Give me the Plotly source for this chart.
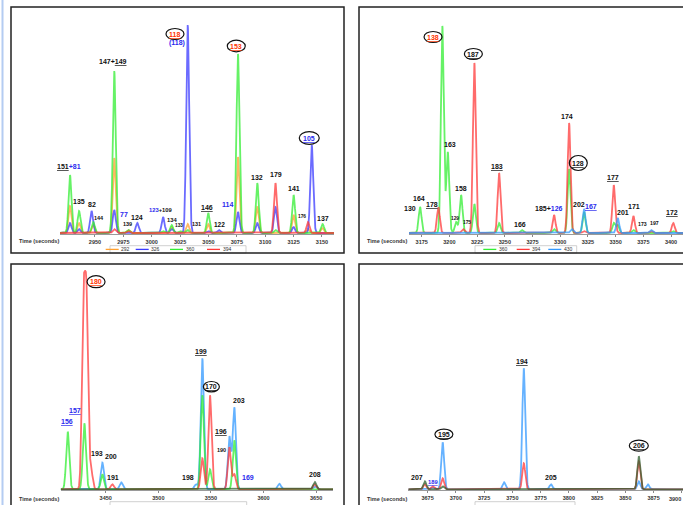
import numpy as np
import plotly.graph_objects as go

W, H = 683, 505

# ---------------- data: peak apex times (s) and heights (a.u.) ----------------
# Panel 1 : channels 292, 326, 360, 394
p1_ticks = [2950, 2975, 3000, 3025, 3050, 3075, 3100, 3125, 3150]
p1_292_t = [2928.0, 2936.0, 2948.5, 2967.0, 2979.3, 3017.6, 3031.7, 3049.8, 3076.0, 3093.0, 3125.0, 3137.7, 3150.5]
p1_292_h = [27, 10, 8, 75, 3, 6, 9, 9, 76, 26, 18, 4, 5]
p1_326_t = [2928.0, 2936.0, 2947.0, 2967.0, 2987.3, 3010.0, 3017.6, 3031.7, 3049.8, 3059.0, 3076.0, 3093.0, 3109.0, 3125.0, 3141.0]
p1_326_h = [10, 4, 22, 23, 10, 16, 4, 208, 2, 3, 21, 10, 26, 6, 88]
p1_360_t = [2928.0, 2936.0, 2948.5, 2967.0, 2979.3, 3010.0, 3017.6, 3025.0, 3031.7, 3049.8, 3076.0, 3093.0, 3109.0, 3125.0, 3150.5]
p1_360_h = [58, 22, 11, 162, 3, 2, 8, 2, 3, 20, 179, 50, 3, 38, 9]
p1_394_t = [2967.0, 2979.3, 3109.0, 3137.7]
p1_394_h = [4, 2, 50, 11]

# Panel 2 : channels 360, 394, 430
p2_ticks = [3175, 3200, 3225, 3250, 3275, 3300, 3325, 3350, 3375, 3400]
p2_360_t = [3173.5, 3193.6, 3198.5, 3206.0, 3210.5, 3222.5, 3244.8, 3265.3, 3294.4, 3308.0, 3321.5, 3348.3, 3351.9, 3366.0, 3402.0]
p2_360_h = [26, 207, 81, 11, 38, 29, 10, 3, 4, 64, 21, 10, 8, 3, 2]
p2_394_t = [3190.0, 3212.3, 3222.5, 3244.8, 3294.4, 3308.0, 3321.5, 3348.3, 3366.0, 3382.0, 3402.0]
p2_394_h = [25.7, 4, 170, 60, 18, 110, 2, 48, 17, 2, 10]
p2_430_t = [3310.4, 3321.5, 3351.9, 3382.0]
p2_430_h = [4, 24, 15, 3]

# Panel 3 : four channels
p3_ticks = [3450, 3500, 3550, 3600, 3650]
p3_blue_t = [3446.8, 3464.8, 3535.8, 3541.8, 3567.5, 3572.2, 3615.0, 3648.7]
p3_blue_h = [26.6, 7, 5, 131, 52.6, 81.6, 5.6, 3]
p3_green_t = [3413.9, 3429.7, 3446.8, 3541.8, 3549.1, 3572.2]
p3_green_h = [57.6, 66, 15, 94, 20, 49]
p3_red_t = [3428.8, 3431.8, 3436.0, 3456.3, 3541.8, 3549.1, 3567.5, 3572.2, 3648.7]
p3_red_h = [180, 180, 20, 5, 31, 94, 42, 15, 5]
p3_dark_t = [3648.7]
p3_dark_h = [7.3]

# Panel 4 : three channels
p4_ticks = [3675, 3700, 3725, 3750, 3775, 3800, 3825, 3850, 3875, 3900]
p4_blue_t = [3679.4, 3688.3, 3742.7, 3760.1, 3784.2, 3861.9, 3869.9]
p4_blue_h = [2, 47, 7, 121, 5, 8, 5]
p4_red_t = [3672.6, 3679.4, 3688.3, 3760.1, 3861.9]
p4_red_h = [5, 3, 11, 26, 28]
p4_dark_t = [3672.6, 3688.3, 3861.9]
p4_dark_h = [8, 3, 33]

# legend names
p1_names = ["292", "326", "360", "394"]
p2_names = ["360", "394", "430"]
p3_names = ["292", "360", "394", "430"]
p4_names = ["360", "394", "430"]

# ---------------- styling ----------------
ORANGE, BLUE1, GREEN, RED = "#ffa030", "#3a3aff", "#33ee33", "#ff3a3a"
LBLUE, DARK = "#3399ff", "#2f5f2f"
LBL_BLUE, LBL_RED = "#2a2aee", "#ff3300"
FONT = "Liberation Sans, Arial, sans-serif"


def chrom(grid, ts, hs, sigma):
    y = np.zeros_like(grid)
    for c, h in zip(ts, hs):
        y += h * np.exp(-((grid - c) ** 2) / (2 * sigma ** 2))
    return y


panels = {
    1: dict(xr=[2919.2, 3160.6], xd=[60, 334], yd=[234, 19], yr=[-1, 214], sigma=1.3, ticks=p1_ticks,
            series=[(p1_292_t, p1_292_h, ORANGE), (p1_326_t, p1_326_h, BLUE1),
                    (p1_360_t, p1_360_h, GREEN), (p1_394_t, p1_394_h, RED)]),
    2: dict(xr=[3163.5, 3410.8], xd=[409, 683], yd=[234, 19], yr=[-1, 214], sigma=1.3, ticks=p2_ticks,
            series=[(p2_360_t, p2_360_h, GREEN), (p2_394_t, p2_394_h, RED), (p2_430_t, p2_430_h, LBLUE)]),
    3: dict(xr=[3407.2, 3666.0], xd=[60.7, 333], yd=[490.3, 264.3], yr=[-1, 225], sigma=1.5, ticks=p3_ticks,
            series=[(p3_blue_t, p3_blue_h, LBLUE), (p3_green_t, p3_green_h, GREEN),
                    (p3_red_t, p3_red_h, RED), (p3_dark_t, p3_dark_h, DARK)]),
    4: dict(xr=[3657.9, 3901.0], xd=[408.3, 683], yd=[490.3, 264.3], yr=[-1, 225], sigma=1.3, ticks=p4_ticks,
            series=[(p4_blue_t, p4_blue_h, LBLUE), (p4_red_t, p4_red_h, RED), (p4_dark_t, p4_dark_h, DARK)]),
}

fig = go.Figure()
layout = dict(width=W, height=H, margin=dict(l=0, r=0, t=0, b=0), paper_bgcolor="white",
              plot_bgcolor="rgba(0,0,0,0)", showlegend=False)

for k, p in panels.items():
    sfx = "" if k == 1 else str(k)
    grid = np.arange(p["xr"][0], p["xr"][1] + 0.1, 0.1)
    for ts, hs, col in p["series"]:
        fig.add_trace(go.Scatter(x=grid, y=chrom(grid, ts, hs, p["sigma"]), mode="lines",
                                 line=dict(color=col, width=1.8), opacity=0.75,
                                 xaxis="x" + sfx, yaxis="y" + sfx, hoverinfo="skip"))
    # tick labels that would spill past the page edge are written as an edge-aligned note instead
    ttext = [f"<b>{v}</b>" if v <= p["xr"][1] - 3 else "" for v in p["ticks"]]
    layout["xaxis" + sfx] = dict(domain=[p["xd"][0] / W, min(1, p["xd"][1] / W)], range=p["xr"],
                                 anchor="y" + sfx, showgrid=False, zeroline=False, showline=True,
                                 linecolor="#9a9a9a", linewidth=0.8, ticks="outside", ticklen=2,
                                 tickcolor="#888", tickvals=p["ticks"], ticktext=ttext,
                                 tickfont=dict(family=FONT, size=5.5, color="#333"))
    layout["yaxis" + sfx] = dict(domain=[1 - p["yd"][0] / H, 1 - p["yd"][1] / H], range=p["yr"],
                                 anchor="x" + sfx, visible=False)

# ---------------- peak labels ----------------
def u(s):
    return f"<u>{s}</u>"


def col(s, c):
    return f"<span style='color:{c}'>{s}</span>"


# (panel, html text, time, height, size, color, ellipse half-size or None)
labels = [
    (1, u("151") + col("+81", LBL_BLUE), 2927.4, 67, 7, "#111", None),
    (1, "135", 2935.9, 32, 7, "#111", None),
    (1, "82", 2947.1, 29, 7, "#111", None),
    (1, "144", 2953.3, 15, 5.5, "#111", None),
    (1, "147+" + u("149"), 2965.6, 172, 7, "#111", None),
    (1, "77", 2975.3, 18.7, 7, LBL_BLUE, None),
    (1, "139", 2979.1, 9, 5.5, "#111", None),
    (1, "124", 2987.3, 16, 7, "#111", None),
    (1, col("123", LBL_BLUE) + "+109", 3008.1, 23, 5.8, "#111", None),
    (1, "134", 3017.8, 13, 5.8, "#111", None),
    (1, "133", 3024.3, 8, 4.8, "#111", None),
    (1, u("118"), 3020.5, 199, 7, LBL_RED, (9, 5.5)),
    (1, "(118)", 3022.0, 190, 7, LBL_BLUE, None),
    (1, "131", 3039.6, 9, 5.5, "#111", None),
    (1, u("146"), 3048.9, 26, 7, "#111", None),
    (1, "122", 3059.3, 9, 6.5, "#111", None),
    (1, "114", 3067.2, 29, 7, LBL_BLUE, None),
    (1, u("153"), 3074.5, 187, 7, LBL_RED, (9, 5.8)),
    (1, "132", 3093.0, 56, 7, "#111", None),
    (1, "179", 3109.5, 59, 7, "#111", None),
    (1, "141", 3125.6, 45, 7, "#111", None),
    (1, "176", 3132.1, 17, 4.8, "#111", None),
    (1, u("105"), 3138.8, 95, 7, LBL_BLUE, (10, 6.3)),
    (1, "137", 3151.1, 15, 7, "#111", None),

    (2, "130", 3164.4, 24.7, 7, "#111", None),
    (2, "164", 3172.3, 35, 7, "#111", None),
    (2, u("178"), 3184.6, 29, 7, "#111", None),
    (2, u("138"), 3185.2, 196, 7, LBL_RED, (9, 5.5)),
    (2, "163", 3200.8, 88.7, 7, "#111", None),
    (2, "129", 3205.0, 15, 4.8, "#111", None),
    (2, "158", 3210.5, 44.7, 7, "#111", None),
    (2, "175", 3215.6, 10.7, 4.8, "#111", None),
    (2, u("187"), 3221.6, 179, 7, "#111", (9, 5.5)),
    (2, u("183"), 3242.7, 67, 7, "#111", None),
    (2, "166", 3263.7, 9, 7, "#111", None),
    (2, "185+" + col("126", LBL_BLUE), 3289.9, 24.7, 7, "#111", None),
    (2, "174", 3306.4, 117, 7, "#111", None),
    (2, u("128"), 3316.3, 70, 7, "#111", (9, 7.5)),
    (2, "202", 3316.7, 29, 7, "#111", None),
    (2, u("167"), 3327.8, 27, 7, LBL_BLUE, None),
    (2, u("177"), 3347.9, 56, 7, "#111", None),
    (2, "201", 3356.4, 21, 7, "#111", None),
    (2, "171", 3366.9, 26.7, 7, "#111", None),
    (2, "173", 3374.5, 9, 5.2, "#111", None),
    (2, "197", 3384.9, 10, 5.2, "#111", None),
    (2, u("172"), 3400.6, 20.7, 7, "#111", None),

    (3, u("156"), 3412.9, 67.6, 7, LBL_BLUE, None),
    (3, u("157"), 3421.1, 78.6, 7, LBL_BLUE, None),
    (3, u("180"), 3440.8, 207.6, 7, LBL_RED, (9, 6)),
    (3, "193", 3441.4, 35.6, 7, "#111", None),
    (3, "200", 3454.8, 33, 7, "#111", None),
    (3, "191", 3456.7, 11.6, 7, "#111", None),
    (3, "198", 3528.5, 11.6, 7, "#111", None),
    (3, u("199"), 3540.3, 137.6, 7, "#111", None),
    (3, u("170"), 3550.4, 102.6, 7, "#111", (8, 5.2)),
    (3, u("196"), 3559.6, 58, 7, "#111", None),
    (3, "190", 3559.6, 39.6, 5.5, "#111", None),
    (3, "203", 3577.0, 88.6, 7, "#111", None),
    (3, "169", 3585.6, 11.6, 7, LBL_BLUE, None),
    (3, "208", 3648.7, 15, 7, "#111", None),

    (4, "207", 3665.8, 11.6, 7, "#111", None),
    (4, u("189"), 3679.4, 7.6, 5.8, LBL_BLUE, None),
    (4, u("195"), 3689.4, 55, 7, "#111", (9, 5.2)),
    (4, u("194"), 3758.9, 128, 7, "#111", None),
    (4, "205", 3784.2, 11.6, 7, "#111", None),
    (4, u("206"), 3861.9, 43.6, 7, "#111", (9.5, 5.5)),
]

annotations, shapes = [], []
for k, txt, t, h, size, c, ell in labels:
    sfx = "" if k == 1 else str(k)
    annotations.append(dict(x=t, y=h, xref="x" + sfx, yref="y" + sfx, text=f"<b>{txt}</b>",
                            showarrow=False, xanchor="center", yanchor="middle",
                            font=dict(family=FONT, size=size, color=c)))
    if ell:
        shapes.append(dict(type="circle", xref="x" + sfx, yref="y" + sfx, xsizemode="pixel",
                           ysizemode="pixel", xanchor=t, yanchor=h, x0=-ell[0], x1=ell[0],
                           y0=-ell[1], y1=ell[1], line=dict(color="#111", width=1.2)))

# ---------------- frames, axis titles, legends ----------------
def px(x):
    return x / W


def py(y):
    return 1 - y / H


# last tick label of panel 4, kept inside the page edge
annotations.append(dict(x=1.0, y=py(499), xref="paper", yref="paper", text=f"<b>{p4_ticks[-1]}</b>",
                        showarrow=False, xanchor="right", yanchor="middle",
                        font=dict(family=FONT, size=5.5, color="#333")))

frames = [(11, 7, 344, 253), (359, 7, 700, 253), (11, 264, 344, 520), (359, 264, 700, 520)]
for x0, y0, x1, y1 in frames:
    shapes.append(dict(type="rect", xref="paper", yref="paper", x0=px(x0), x1=px(x1),
                       y0=py(y1), y1=py(y0), line=dict(color="#222", width=1.5)))
shapes.append(dict(type="line", xref="paper", yref="paper", x0=px(2.5), x1=px(2.5), y0=0, y1=1,
                   line=dict(color="#b4ccf2", width=2)))

for cx, cy in [(38.7, 241), (387, 241), (38.5, 499), (387, 499)]:
    annotations.append(dict(x=px(cx), y=py(cy), xref="paper", yref="paper",
                            text="<b>Time (seconds)</b>", showarrow=False, xanchor="center",
                            yanchor="middle", font=dict(family=FONT, size=5.5, color="#333")))

legends = [
    ((110, 245.7, 246, 253), [125.7, 155.7, 190, 227], p1_names, [ORANGE, BLUE1, GREEN, RED], 249.4),
    ((475, 245.7, 576.7, 253), [503.3, 536.7, 568.3], p2_names, [GREEN, RED, LBLUE], 249.4),
    ((110, 501.7, 246.7, 512), [133.3, 165, 195, 235], p3_names, [LBLUE, GREEN, RED, DARK], 506.8),
    ((475, 501.7, 575, 512), [498.3, 531.7, 563.3], p4_names, [DARK, RED, LBLUE], 506.8),
]
for (bx0, by0, bx1, by1), centers, names, cols, ly in legends:
    shapes.append(dict(type="rect", xref="paper", yref="paper", x0=px(bx0), x1=px(bx1),
                       y0=py(by1), y1=py(by0), line=dict(color="#c4c4c4", width=0.8),
                       fillcolor="white", layer="below"))
    for c, name, colr in zip(centers, names, cols):
        shapes.append(dict(type="line", xref="paper", yref="paper", x0=px(c - 20), x1=px(c - 7),
                           y0=py(ly), y1=py(ly), line=dict(color=colr, width=1.3)))
        annotations.append(dict(x=px(c), y=py(ly), xref="paper", yref="paper", text=name,
                                showarrow=False, xanchor="center", yanchor="middle",
                                font=dict(family=FONT, size=5, color="#333")))

layout["annotations"] = annotations
layout["shapes"] = shapes
fig.update_layout(**layout)
fig.write_html("out.html", config={"displayModeBar": False},
               post_script="document.body.style.margin='0px';document.body.style.overflow='hidden';")
